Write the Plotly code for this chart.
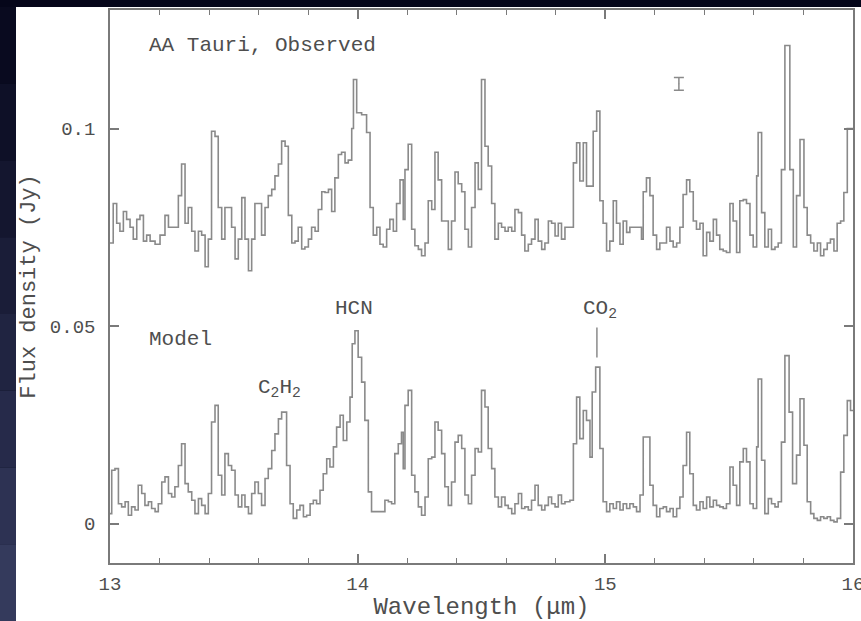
import plotly.graph_objects as go

# ---- data (bin start wavelength in micron, flux density in Jy) ----
obs_wl = [13.000, 13.013, 13.027, 13.040, 13.054, 13.067, 13.081, 13.094, 13.108, 13.121,
          13.135, 13.148, 13.162, 13.182, 13.202, 13.222, 13.236, 13.249, 13.276, 13.289,
          13.303, 13.316, 13.330, 13.343, 13.357, 13.370, 13.384, 13.397, 13.410, 13.424,
          13.437, 13.451, 13.464, 13.478, 13.491, 13.505, 13.518, 13.532, 13.545, 13.559,
          13.572, 13.585, 13.599, 13.612, 13.626, 13.639, 13.653, 13.666, 13.680, 13.693,
          13.707, 13.720, 13.734, 13.747, 13.760, 13.774, 13.787, 13.801, 13.814, 13.828,
          13.841, 13.855, 13.868, 13.882, 13.895, 13.908, 13.922, 13.935, 13.949, 13.962,
          13.976, 13.983, 13.996, 14.016, 14.036, 14.050, 14.063, 14.077, 14.090, 14.103,
          14.117, 14.130, 14.144, 14.157, 14.171, 14.184, 14.191, 14.204, 14.218, 14.231,
          14.245, 14.258, 14.272, 14.285, 14.299, 14.312, 14.325, 14.339, 14.366, 14.379,
          14.393, 14.406, 14.420, 14.433, 14.447, 14.460, 14.474, 14.487, 14.500, 14.514,
          14.527, 14.541, 14.554, 14.568, 14.581, 14.595, 14.608, 14.622, 14.635, 14.649,
          14.662, 14.675, 14.689, 14.702, 14.716, 14.729, 14.743, 14.756, 14.770, 14.783,
          14.797, 14.810, 14.823, 14.837, 14.871, 14.884, 14.897, 14.911, 14.924, 14.951,
          14.965, 14.978, 14.991, 15.005, 15.018, 15.032, 15.045, 15.059, 15.072, 15.086,
          15.099, 15.146, 15.153, 15.166, 15.180, 15.193, 15.207, 15.220, 15.247, 15.261,
          15.274, 15.288, 15.301, 15.314, 15.328, 15.341, 15.355, 15.368, 15.382, 15.395,
          15.409, 15.422, 15.436, 15.449, 15.462, 15.476, 15.489, 15.503, 15.516, 15.530,
          15.543, 15.557, 15.570, 15.584, 15.597, 15.611, 15.617, 15.631, 15.644, 15.658,
          15.671, 15.685, 15.698, 15.711, 15.725, 15.745, 15.759, 15.772, 15.786, 15.802,
          15.815, 15.829, 15.842, 15.856, 15.869, 15.882, 15.896, 15.909, 15.923, 15.936,
          15.950, 15.963, 15.977]
obs_flux = [0.0710, 0.0810, 0.0760, 0.0740, 0.0790, 0.0770, 0.0750, 0.0720, 0.0770, 0.0780,
            0.0715, 0.0730, 0.0715, 0.0707, 0.0730, 0.0780, 0.0750, 0.0750, 0.0830, 0.0910,
            0.0760, 0.0800, 0.0740, 0.0690, 0.0740, 0.0730, 0.0650, 0.0720, 0.0993, 0.0980,
            0.0800, 0.0720, 0.0800, 0.0800, 0.0750, 0.0670, 0.0720, 0.0825, 0.0720, 0.0640,
            0.0720, 0.0810, 0.0810, 0.0730, 0.0800, 0.0830, 0.0846, 0.0880, 0.0910, 0.0968,
            0.0955, 0.0780, 0.0710, 0.0715, 0.0750, 0.0695, 0.0700, 0.0720, 0.0750, 0.0740,
            0.0795, 0.0840, 0.0838, 0.0846, 0.0790, 0.0875, 0.0934, 0.0940, 0.0913, 0.0920,
            0.1000, 0.1124, 0.1040, 0.1035, 0.0990, 0.0800, 0.0730, 0.0750, 0.0707, 0.0700,
            0.0745, 0.0770, 0.0740, 0.0810, 0.0870, 0.0770, 0.0896, 0.0960, 0.0745, 0.0703,
            0.0694, 0.0678, 0.0710, 0.0817, 0.0795, 0.0940, 0.0870, 0.0766, 0.0694, 0.0766,
            0.0890, 0.0860, 0.0840, 0.0745, 0.0700, 0.0800, 0.0913, 0.0846, 0.1124, 0.0955,
            0.0905, 0.0810, 0.0720, 0.0760, 0.0750, 0.0740, 0.0750, 0.0740, 0.0795, 0.0787,
            0.0730, 0.0690, 0.0707, 0.0720, 0.0770, 0.0715, 0.0694, 0.0710, 0.0766, 0.0760,
            0.0728, 0.0760, 0.0720, 0.0750, 0.0913, 0.0964, 0.0867, 0.0964, 0.0854, 0.0993,
            0.1044, 0.0817, 0.0760, 0.0690, 0.0715, 0.0817, 0.0760, 0.0707, 0.0766, 0.0737,
            0.0750, 0.0720, 0.0840, 0.0875, 0.0830, 0.0730, 0.0694, 0.0710, 0.0750, 0.0715,
            0.0700, 0.0710, 0.0750, 0.0833, 0.0870, 0.0840, 0.0766, 0.0745, 0.0760, 0.0678,
            0.0737, 0.0715, 0.0770, 0.0730, 0.0694, 0.0690, 0.0686, 0.0810, 0.0766, 0.0686,
            0.0817, 0.0820, 0.0810, 0.0730, 0.0700, 0.0880, 0.0990, 0.0787, 0.0700, 0.0745,
            0.0694, 0.0700, 0.0710, 0.0896, 0.1210, 0.0896, 0.0700, 0.0830, 0.0972, 0.0800,
            0.0730, 0.0710, 0.0690, 0.0710, 0.0678, 0.0694, 0.0710, 0.0720, 0.0690, 0.0760,
            0.0766, 0.0838, 0.1000]

mod_wl = [13.000, 13.007, 13.020, 13.034, 13.047, 13.061, 13.074, 13.087, 13.101, 13.114,
          13.128, 13.141, 13.155, 13.168, 13.182, 13.195, 13.209, 13.222, 13.236, 13.249,
          13.262, 13.276, 13.289, 13.303, 13.316, 13.330, 13.343, 13.357, 13.370, 13.384,
          13.397, 13.410, 13.424, 13.437, 13.451, 13.464, 13.478, 13.491, 13.505, 13.518,
          13.532, 13.545, 13.559, 13.572, 13.585, 13.599, 13.612, 13.626, 13.639, 13.653,
          13.666, 13.680, 13.693, 13.713, 13.727, 13.740, 13.754, 13.767, 13.781, 13.794,
          13.808, 13.821, 13.834, 13.848, 13.861, 13.875, 13.888, 13.902, 13.915, 13.929,
          13.942, 13.956, 13.969, 13.978, 13.989, 14.002, 14.016, 14.029, 14.043, 14.056,
          14.110, 14.124, 14.137, 14.150, 14.164, 14.177, 14.184, 14.191, 14.204, 14.218,
          14.231, 14.245, 14.258, 14.272, 14.285, 14.299, 14.312, 14.325, 14.339, 14.352,
          14.366, 14.379, 14.393, 14.406, 14.420, 14.433, 14.447, 14.460, 14.474, 14.487,
          14.500, 14.514, 14.527, 14.541, 14.554, 14.568, 14.581, 14.595, 14.608, 14.622,
          14.635, 14.649, 14.662, 14.675, 14.689, 14.702, 14.716, 14.729, 14.743, 14.756,
          14.770, 14.783, 14.797, 14.810, 14.823, 14.837, 14.857, 14.871, 14.884, 14.897,
          14.911, 14.924, 14.938, 14.947, 14.961, 14.978, 14.991, 15.005, 15.018, 15.032,
          15.045, 15.059, 15.072, 15.086, 15.099, 15.113, 15.126, 15.140, 15.153, 15.180,
          15.193, 15.207, 15.220, 15.234, 15.247, 15.261, 15.274, 15.288, 15.301, 15.314,
          15.328, 15.341, 15.355, 15.368, 15.382, 15.395, 15.409, 15.422, 15.436, 15.449,
          15.462, 15.476, 15.489, 15.503, 15.516, 15.530, 15.543, 15.557, 15.570, 15.584,
          15.597, 15.611, 15.617, 15.631, 15.644, 15.658, 15.671, 15.685, 15.698, 15.711,
          15.725, 15.742, 15.756, 15.772, 15.786, 15.802, 15.815, 15.829, 15.842, 15.856,
          15.869, 15.882, 15.896, 15.909, 15.923, 15.936, 15.950, 15.963, 15.977, 15.990]
mod_flux = [0.0025, 0.0135, 0.0139, 0.0050, 0.0042, 0.0055, 0.0021, 0.0042, 0.0034, 0.0097,
            0.0076, 0.0046, 0.0055, 0.0038, 0.0030, 0.0050, 0.0105, 0.0118, 0.0076, 0.0067,
            0.0093, 0.0147, 0.0202, 0.0101, 0.0080, 0.0059, 0.0025, 0.0063, 0.0046, 0.0025,
            0.0076, 0.0257, 0.0299, 0.0122, 0.0072, 0.0177, 0.0147, 0.0135, 0.0072, 0.0042,
            0.0072, 0.0042, 0.0025, 0.0076, 0.0105, 0.0076, 0.0046, 0.0114, 0.0139, 0.0185,
            0.0227, 0.0265, 0.0282, 0.0147, 0.0050, 0.0013, 0.0034, 0.0046, 0.0017, 0.0021,
            0.0050, 0.0059, 0.0050, 0.0084, 0.0126, 0.0164, 0.0143, 0.0194, 0.0244, 0.0274,
            0.0210, 0.0257, 0.0320, 0.0455, 0.0488, 0.0421, 0.0358, 0.0261, 0.0080, 0.0030,
            0.0059, 0.0055, 0.0050, 0.0177, 0.0202, 0.0231, 0.0139, 0.0299, 0.0337, 0.0122,
            0.0080, 0.0042, 0.0021, 0.0067, 0.0164, 0.0168, 0.0257, 0.0236, 0.0177, 0.0093,
            0.0046, 0.0105, 0.0206, 0.0223, 0.0190, 0.0072, 0.0050, 0.0122, 0.0190, 0.0181,
            0.0337, 0.0295, 0.0190, 0.0139, 0.0067, 0.0042, 0.0067, 0.0046, 0.0038, 0.0025,
            0.0050, 0.0076, 0.0038, 0.0042, 0.0034, 0.0059, 0.0097, 0.0046, 0.0034, 0.0046,
            0.0067, 0.0050, 0.0042, 0.0072, 0.0050, 0.0055, 0.0059, 0.0202, 0.0320, 0.0215,
            0.0286, 0.0261, 0.0168, 0.0333, 0.0396, 0.0190, 0.0055, 0.0030, 0.0050, 0.0038,
            0.0055, 0.0034, 0.0050, 0.0038, 0.0050, 0.0042, 0.0030, 0.0072, 0.0219, 0.0097,
            0.0046, 0.0017, 0.0038, 0.0042, 0.0030, 0.0038, 0.0017, 0.0038, 0.0067, 0.0147,
            0.0231, 0.0126, 0.0046, 0.0034, 0.0055, 0.0038, 0.0067, 0.0042, 0.0059, 0.0046,
            0.0042, 0.0038, 0.0050, 0.0143, 0.0097, 0.0046, 0.0156, 0.0190, 0.0156, 0.0050,
            0.0038, 0.0194, 0.0366, 0.0160, 0.0025, 0.0063, 0.0050, 0.0042, 0.0055, 0.0206,
            0.0425, 0.0282, 0.0101, 0.0173, 0.0316, 0.0198, 0.0055, 0.0025, 0.0013, 0.0008,
            0.0017, 0.0013, 0.0017, 0.0008, 0.0004, 0.0013, 0.0130, 0.0223, 0.0311, 0.0286]

wl_end = 16.0
x_ticks = [13, 14, 15, 16]
y_ticks = [0, 0.05, 0.1]
y_ticktext = ["0", "0.05", "0.1"]

# error bar sample
err_x = [15.297]
err_y = [0.1113]
err_half = [0.0016]

# CO2 marker line
co2_x = 14.966
co2_y = [0.0420, 0.0496]

line_col = "#8a8a8a"
text_col = "#4e4e4e"
axis_col = "#7a7a7a"
FONT = "Liberation Mono"

fig = go.Figure()
fig.add_trace(go.Scatter(x=obs_wl + [wl_end], y=obs_flux + [obs_flux[-1]], mode="lines",
                         line=dict(shape="hv", color=line_col, width=1.6), showlegend=False,
                         hoverinfo="skip"))
fig.add_trace(go.Scatter(x=mod_wl + [wl_end], y=mod_flux + [mod_flux[-1]], mode="lines",
                         line=dict(shape="hv", color=line_col, width=1.6), showlegend=False,
                         hoverinfo="skip"))
fig.add_trace(go.Scatter(x=err_x, y=err_y, mode="markers", marker=dict(size=1, color=line_col),
                         error_y=dict(type="data", array=err_half, visible=True, color=line_col,
                                      thickness=1.5, width=5),
                         showlegend=False, hoverinfo="skip"))
fig.add_trace(go.Scatter(x=[co2_x, co2_x], y=co2_y, mode="lines",
                         line=dict(color=line_col, width=1.5), showlegend=False, hoverinfo="skip"))

W, H = 861, 621
ml, mr, mt, mb = 110, 8, 10, 58
pw, ph = W - ml - mr, H - mt - mb


def px2paper_x(px):
    return (px - ml) / pw


def px2paper_y(py):
    return 1 - (py - mt) / ph


shapes = []
# dark strip gradient on the left
strip_cols = ["#090a1f", "#0e1027", "#14162f", "#1a1d38", "#202441", "#262a4a", "#2d3253", "#343a5c"]
n = len(strip_cols)
for i, c in enumerate(strip_cols):
    shapes.append(dict(type="rect", xref="paper", yref="paper", layer="below",
                       x0=px2paper_x(0), x1=px2paper_x(16),
                       y0=px2paper_y(7 + (H - 7) * (i + 1) / n), y1=px2paper_y(7 + (H - 7) * i / n),
                       fillcolor=c, line=dict(width=0)))
# white panel
shapes.append(dict(type="rect", xref="paper", yref="paper", layer="below",
                   x0=px2paper_x(16), x1=px2paper_x(W + 5), y0=px2paper_y(H + 5), y1=px2paper_y(7),
                   fillcolor="white", line=dict(width=0)))

ann_font = dict(family=FONT, size=21, color=text_col)
lab_font = dict(family=FONT, size=21, color=text_col)
annotations = [
    dict(x=13.149, y=0.121, xref="x", yref="y", text="AA Tauri, Observed", showarrow=False,
         xanchor="left", yanchor="middle", font=ann_font),
    dict(x=13.149, y=0.0465, xref="x", yref="y", text="Model", showarrow=False,
         xanchor="left", yanchor="middle", font=ann_font),
    dict(x=13.686, y=0.0342, xref="x", yref="y", text="C<sub>2</sub>H<sub>2</sub>", showarrow=False,
         xanchor="center", yanchor="middle", font=lab_font),
    dict(x=13.985, y=0.0544, xref="x", yref="y", text="HCN", showarrow=False,
         xanchor="center", yanchor="middle", font=lab_font),
    dict(x=14.978, y=0.0541, xref="x", yref="y", text="CO<sub>2</sub>", showarrow=False,
         xanchor="center", yanchor="middle", font=lab_font),
]

fig.update_layout(
    width=W, height=H,
    margin=dict(l=ml, r=mr, t=mt, b=mb, autoexpand=False),
    paper_bgcolor="#05061a",
    plot_bgcolor="white",
    shapes=shapes,
    annotations=annotations,
    xaxis=dict(range=[13, 16], tickmode="array", tickvals=x_ticks, ticks="inside", ticklen=9,
               tickwidth=1.5, tickcolor=axis_col, showline=True, linecolor=axis_col, linewidth=1.5,
               mirror="ticks", showgrid=False, zeroline=False, ticklabeloverflow="allow",
               minor=dict(tick0=13, dtick=0.2, ticks="inside", ticklen=5, tickwidth=1.2,
                          tickcolor=axis_col, showgrid=False),
               tickfont=dict(family=FONT, size=19, color=text_col), ticklabelstandoff=2,
               title=dict(text="Wavelength (μm)", font=dict(family=FONT, size=24, color=text_col),
                          standoff=4)),
    yaxis=dict(range=[-0.01, 0.13], tickmode="array", tickvals=y_ticks, ticktext=y_ticktext,
               ticks="inside", ticklen=9, tickwidth=1.5, tickcolor=axis_col, showline=True,
               linecolor=axis_col, linewidth=1.5, mirror="ticks", showgrid=False, zeroline=False,
               tickfont=dict(family=FONT, size=19, color=text_col), ticklabelstandoff=9,
               title=dict(text="Flux density (Jy)", font=dict(family=FONT, size=22, color=text_col),
                          standoff=8)),
)

fig.write_html("out.html", config={"displayModeBar": False},
               post_script="document.body.style.margin='0';document.body.style.background='#05061a';")
